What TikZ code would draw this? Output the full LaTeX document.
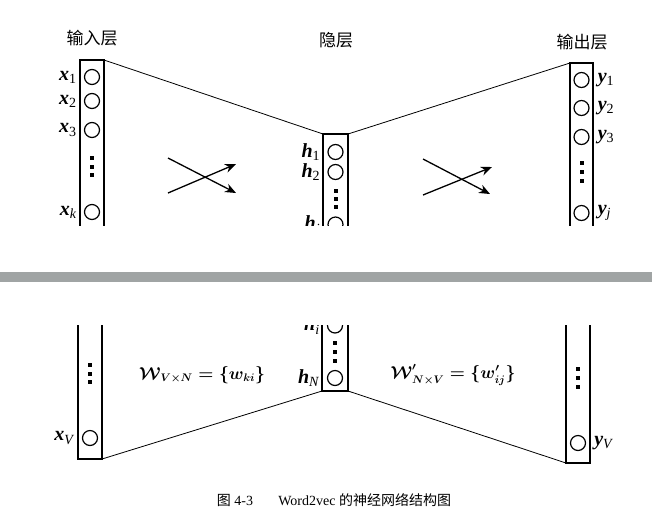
\documentclass[tikz,border=0pt]{standalone}
\usepackage{amsmath,bm}
\usepackage{fontspec}
\setmainfont{Liberation Serif}
\newfontfamily\hei{Noto Sans CJK SC}
\usetikzlibrary{arrows.meta,positioning}
\definecolor{pagegap}{RGB}{160,164,164}
\newcommand\bv[1]{\textbf{\textit{#1}}}
\tikzset{
  neuron/.style={circle,draw,line width=1.2pt,minimum size=15pt,inner sep=0pt},
  layerbox/.style={line width=1.8pt},
  unitlbl/.style={font=\fontsize{20}{20}\selectfont,inner sep=0pt},
  title/.style={font=\hei\fontsize{17}{20}\selectfont},
  flow/.style={line width=1.3pt,-{Stealth[length=11pt,width=9pt]}},
  wire/.style={line width=0.8pt},
  sqdot/.style={fill,minimum size=4pt,inner sep=0pt},
  weights/.style={font=\fontsize{16}{16}\selectfont\boldmath}
}
\begin{document}
\begin{tikzpicture}[x=1pt,y=-1pt]
\useasboundingbox (0,0) rectangle (652,523);
% layer titles
\node[title] (tin) at (92,38) {输入层};
\node[title] (thid) at (336,40) {隐层};
\node[title] (tout) at (582,42) {输出层};
% upper half of the page
\begin{scope}
\clip (0,0) rectangle (652,225);
\draw[layerbox] (80,240) -- (80,60) -- (104,60) -- (104,240);
\draw[layerbox] (323,240) -- (323,134) -- (348,134) -- (348,240);
\draw[layerbox] (570,240) -- (570,63) -- (593,63) -- (593,240);
\coordinate (in-tr) at (104,60);
\coordinate (hid-tl) at (323,134);
\coordinate (hid-tr) at (348,134);
\coordinate (out-tl) at (570,63);
\draw[wire] (in-tr) -- (hid-tl);
\draw[wire] (hid-tr) -- (out-tl);
\foreach \y/\n/\s in {77/1/1,101/2/2,130/3/3,212/k/\textit{k}}{
  \node[neuron] (x\n) at (92,\y) {};
  \node[unitlbl,left=7pt of x\n] (lx\n) {\bv{x}\textsubscript{\s}};
}
\foreach \y/\n/\s in {152/1/1,172/2/2,224.5/i/\textit{i}}{
  \node[neuron] (h\n) at (335.5,\y) {};
  \node[unitlbl,left=7pt of h\n] (lh\n) {\bv{h}\textsubscript{\s}};
}
\foreach \y/\n/\s in {80/1/1,108/2/2,137/3/3,213/j/\textit{j}}{
  \node[neuron] (y\n) at (581.5,\y) {};
  \node[unitlbl,right=8pt of y\n] (ly\n) {\bv{y}\textsubscript{\s}};
}
\foreach \y in {158,166.5,175} \node[sqdot] at (92,\y) {};
\foreach \y in {191,199,207} \node[sqdot] at (335.5,\y) {};
\foreach \y in {163,172,181} \node[sqdot] at (581.5,\y) {};
% crossed arrows
\coordinate (a1s) at (168,158); \coordinate (a1e) at (236,193);
\coordinate (a2s) at (168,193); \coordinate (a2e) at (236,164);
\coordinate (b1s) at (423,159); \coordinate (b1e) at (490,194);
\coordinate (b2s) at (423,195); \coordinate (b2e) at (492,167);
\draw[flow] (a1s) -- (a1e);
\draw[flow] (a2s) -- (a2e);
\draw[flow] (b1s) -- (b1e);
\draw[flow] (b2s) -- (b2e);
\end{scope}
% page break
\fill[pagegap] (0,272) rectangle (652,282);
% lower half of the page
\begin{scope}
\clip (0,325) rectangle (652,523);
\draw[layerbox] (78,310) -- (78,459) -- (102,459) -- (102,310);
\draw[layerbox] (322,310) -- (322,391) -- (348,391) -- (348,310);
\draw[layerbox] (566,310) -- (566,463) -- (590,463) -- (590,310);
\coordinate (in-br) at (102,459);
\coordinate (hid-bl) at (322,391);
\coordinate (hid-br) at (348,391);
\coordinate (out-bl) at (566,463);
\draw[wire] (in-br) -- (hid-bl);
\draw[wire] (hid-br) -- (out-bl);
\node[neuron] (xV) at (90,438) {};
\node[unitlbl,left=7pt of xV] (lxV) {\bv{x}\textsubscript{\textit{V}}};
\node[neuron] (hi2) at (335,325.5) {};
\node[unitlbl,left=7pt of hi2] (lhi2) {\bv{h}\textsubscript{\textit{i}}};
\node[neuron] (hN) at (335,378) {};
\node[unitlbl,left=7pt of hN] (lhN) {\bv{h}\textsubscript{\textit{N}}};
\node[neuron] (yV) at (578,443) {};
\node[unitlbl,right=8pt of yV] (lyV) {\bv{y}\textsubscript{\textit{V}}};
\foreach \y in {365,373.5,382} \node[sqdot] at (90,\y) {};
\foreach \y in {343,352,361} \node[sqdot] at (335,\y) {};
\foreach \y in {369,378,387} \node[sqdot] at (578,\y) {};
\end{scope}
% weight matrices
\node[weights] (wmat) at (202,375)
  {$\bm{\mathcal{W}}_{V\times N}=\{\bm{w}_{ki}\}$};
\node[weights] (wmat2) at (453,375)
  {$\bm{\mathcal{W}}'_{N\times V}=\{\bm{w}'_{ij}\}$};
% caption
\node[font=\fontsize{14}{16}\selectfont] (cap) at (334,500)
  {{\hei 图} 4-3\hspace{1.8em}Word2vec {\hei 的神经网络结构图}};
\end{tikzpicture}
\end{document}
